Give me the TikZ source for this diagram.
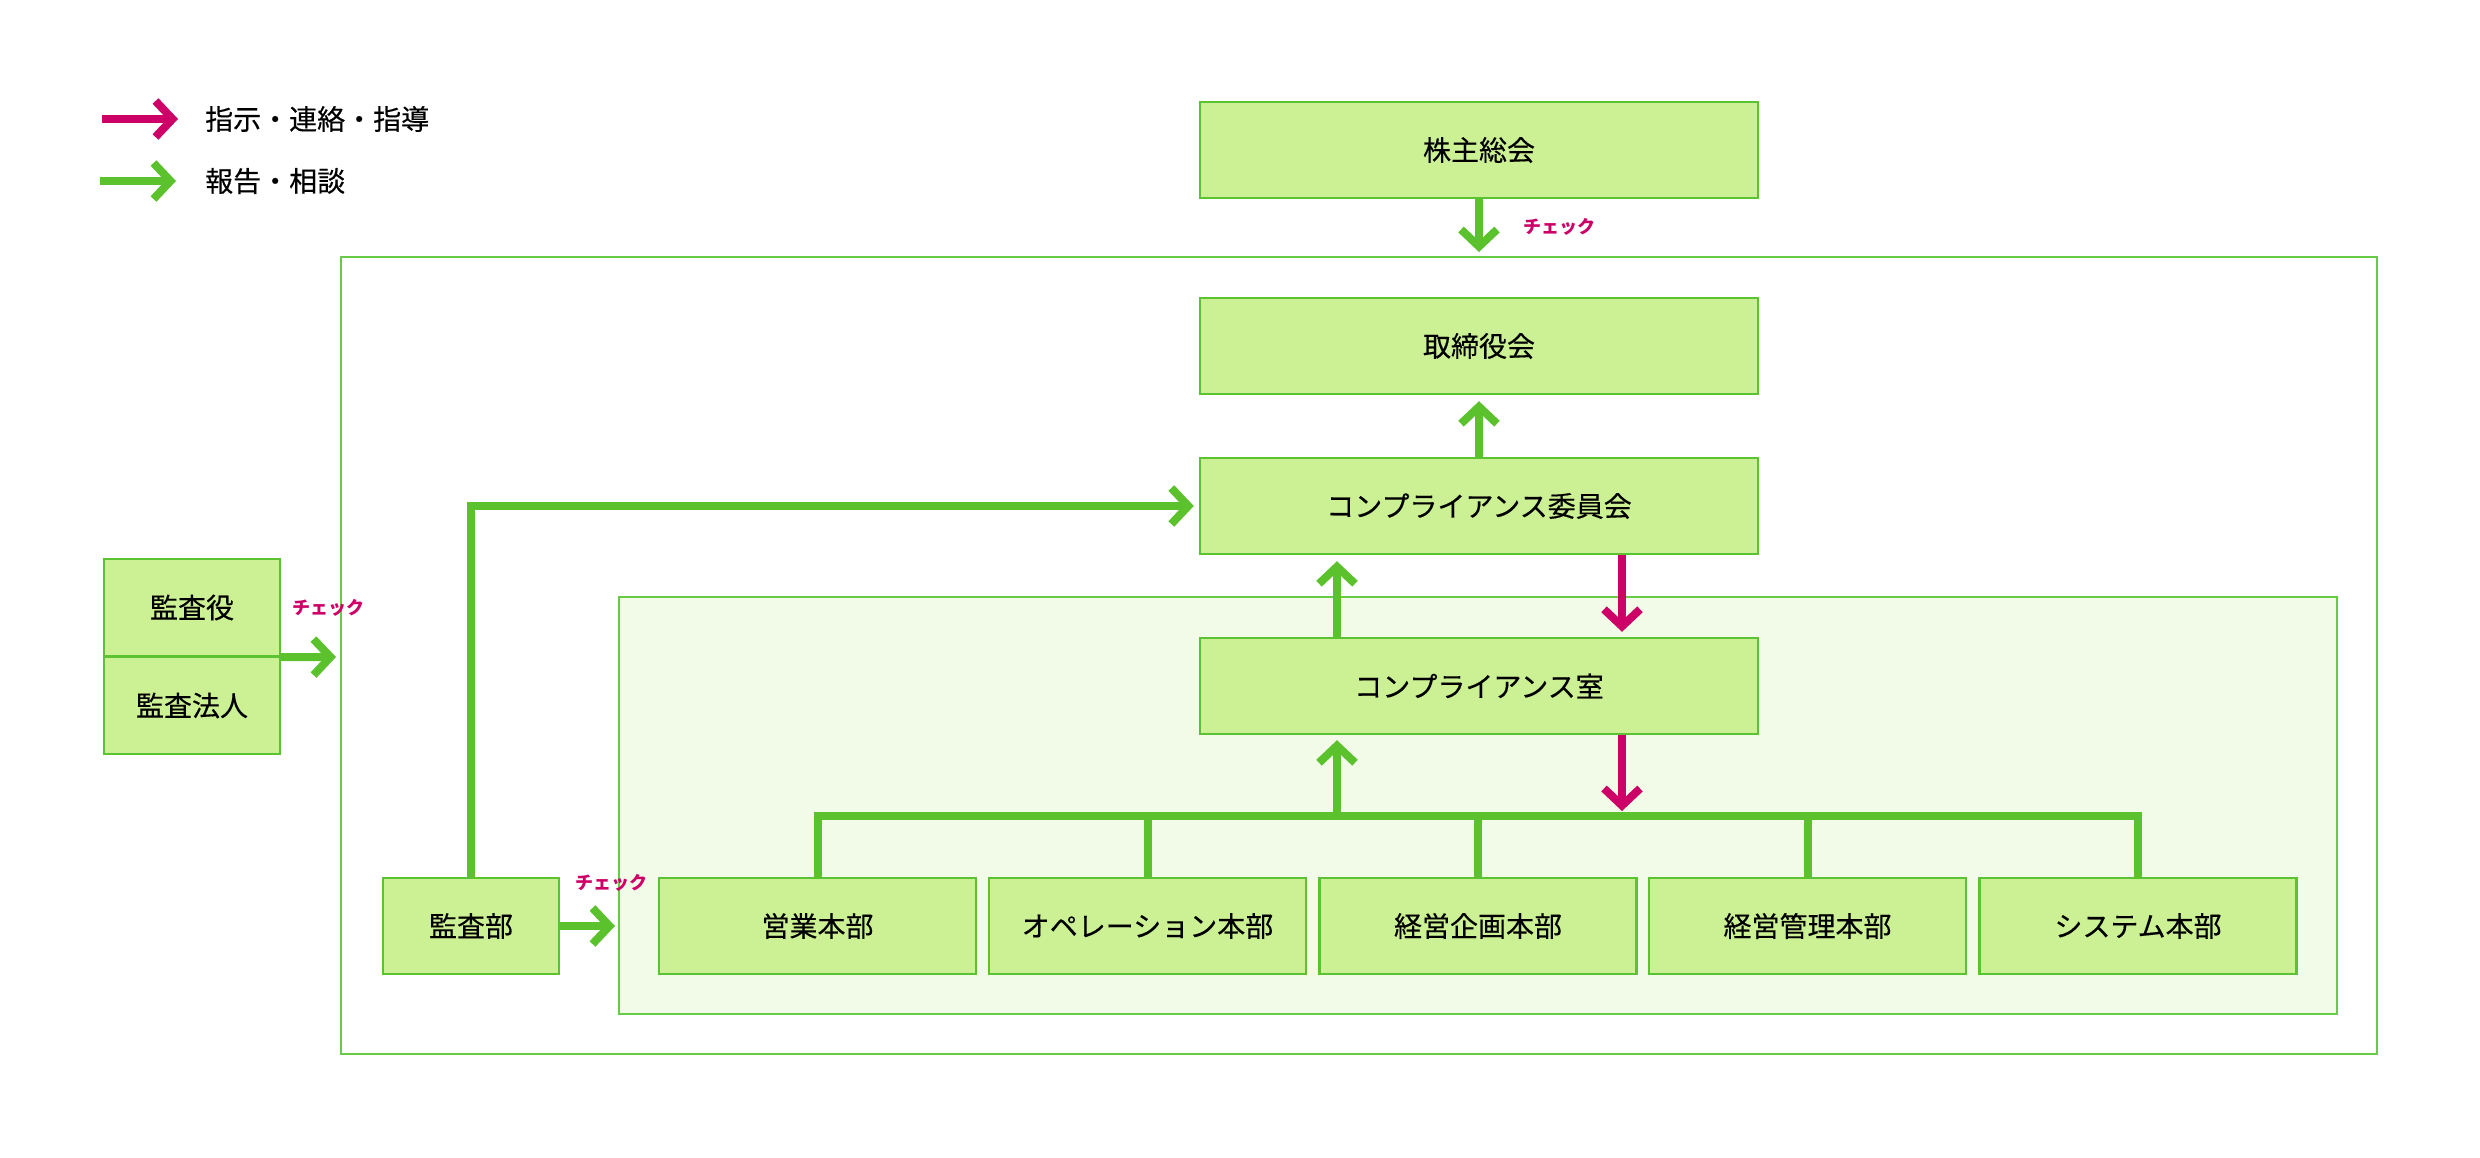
\documentclass[tikz,border=0pt]{standalone}
\usepackage{fontspec}
\setmainfont{Noto Sans CJK JP}
\newfontfamily\medfont{Noto Sans CJK JP}[FakeBold=0.35]
\usetikzlibrary{arrows.meta}
\definecolor{boxfill}{HTML}{CCF094}
\definecolor{boxline}{HTML}{5BC232}
\definecolor{frameline}{HTML}{66CC44}
\definecolor{innerfill}{HTML}{F2FAE8}
\definecolor{mag}{HTML}{CC0066}
\definecolor{grn}{HTML}{5BC22E}
\tikzset{
  box/.style={draw=boxline, line width=2.4pt, fill=boxfill, minimum height=96pt,
    inner sep=0pt, font=\medfont\fontsize{28}{32}\selectfont},
  widebox/.style={box, minimum width=558pt},
  deptbox/.style={box, minimum width=317pt},
  smallbox/.style={box, minimum width=176pt},
  gline/.style={draw=grn, line width=8pt, line join=miter},
  barb/.style={-{Straight Barb[length=17pt,width=36pt,line join=miter,line cap=butt]}},
  garrow/.style={gline, barb},
  marrow/.style={draw=mag, line width=8pt, line join=miter, barb},
  frame/.style={draw=frameline, line width=2pt},
  check/.style={text=mag, inner sep=0pt, font=\fontsize{18}{20}\selectfont\bfseries},
  legendtext/.style={inner sep=0pt, anchor=west, font=\medfont\fontsize{28}{32}\selectfont},
}
\begin{document}
\begin{tikzpicture}[x=1pt,y=-1pt]
\useasboundingbox (0,0) rectangle (2480,1157);
% frames
\draw[frame] (341,257) rectangle (2377,1054);
\draw[frame, fill=innerfill] (619,597) rectangle (2337,1014);
% legend
\coordinate (lm1) at (102,119);
\coordinate (lm2) at (178,119);
\coordinate (lg1) at (100,181);
\coordinate (lg2) at (176,181);
\node[legendtext] (lmt) at (205,119) {指示・連絡・指導};
\node[legendtext] (lgt) at (205,181) {報告・相談};
\draw[marrow] (lm1) -- (lm2);
\draw[garrow] (lg1) -- (lg2);
% main boxes
\node[widebox] (kabu) at (1479,150) {株主総会};
\node[widebox] (tori) at (1479,346) {取締役会};
\node[widebox] (iin) at (1479,506) {コンプライアンス委員会};
\node[widebox] (shitsu) at (1479,686) {コンプライアンス室};
% departments
\node[deptbox] (d1) at (817.5,926) {営業本部};
\node[deptbox] (d2) at (1147.5,926) {オペレーション本部};
\node[deptbox] (d3) at (1478,926) {経営企画本部};
\node[deptbox] (d4) at (1807.5,926) {経営管理本部};
\node[deptbox] (d5) at (2138,926) {システム本部};
\node[smallbox] (kansabu) at (471,926) {監査部};
\node[smallbox, minimum height=97pt] (kansayaku) at (192,607.5) {監査役};
\node[smallbox, minimum height=97pt] (hojin) at (192,705.5) {監査法人};
% coordinates
\coordinate (kabuTip) at (1479,252);
\coordinate (bus) at (1478,816);
\coordinate (busTip) at (1622,811);
\coordinate (kbTip) at (615,926);
\coordinate (kyTip) at (336,657);
% connectors
\draw[garrow] (kabu.south) -- (kabuTip);
\node[check] (c1) at (1559,227) {チェック};
\draw[garrow] (iin.north) -- ([yshift=-6pt]tori.south);
\draw[garrow] ([xshift=-142pt]shitsu.north) -- ([xshift=-142pt,yshift=-6pt]iin.south);
\draw[marrow] ([xshift=143pt]iin.south) -- ([xshift=143pt,yshift=5pt]shitsu.north);
\draw[gline] (d1.north) |- (bus) -| (d5.north);
\draw[gline] (d2.north) -- (d2.north |- bus);
\draw[gline] (d3.north) -- (d3.north |- bus);
\draw[gline] (d4.north) -- (d4.north |- bus);
\draw[garrow] ([xshift=-142pt]shitsu.south |- bus) -- ([xshift=-142pt,yshift=-5pt]shitsu.south);
\draw[marrow] ([xshift=143pt]shitsu.south) -- (busTip);
\draw[garrow] (kansabu.north) |- ([xshift=-5pt]iin.west);
\draw[garrow] (kansabu.east) -- (kbTip);
\node[check] (c2) at (611,883) {チェック};
\draw[garrow] (kansayaku.south east) -- (kyTip);
\node[check] (c3) at (328,608) {チェック};
\end{tikzpicture}
\end{document}
